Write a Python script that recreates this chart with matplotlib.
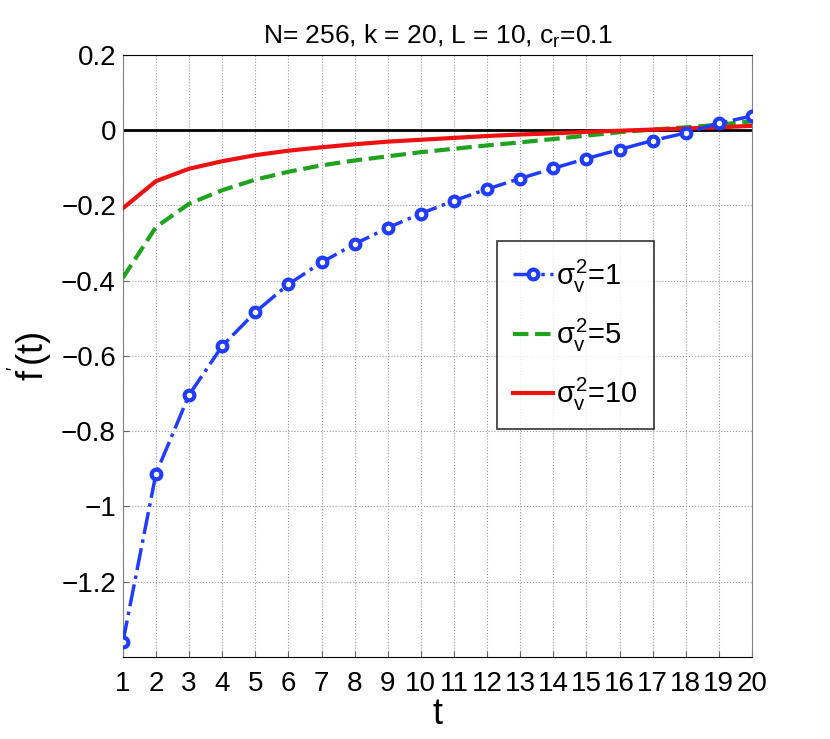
import matplotlib
matplotlib.use("Agg")
import matplotlib.pyplot as plt

# ─── DATA ──────────────────────────────────────────────
t = list(range(1, 21))

# sigma_v^2 = 1
f_s1 = [-1.361, -0.913, -0.704, -0.574, -0.484, -0.410, -0.352, -0.303, -0.260, -0.222,
        -0.188, -0.157, -0.129, -0.102, -0.076, -0.052, -0.028, -0.008, 0.018, 0.037]
# sigma_v^2 = 5
f_s5 = [-0.393, -0.258, -0.196, -0.160, -0.132, -0.111, -0.094, -0.081, -0.070, -0.059,
        -0.050, -0.041, -0.033, -0.024, -0.015, -0.006, 0.001, 0.007, 0.014, 0.023]
# sigma_v^2 = 10
f_s10 = [-0.208, -0.136, -0.103, -0.083, -0.067, -0.055, -0.046, -0.038, -0.031, -0.026,
         -0.021, -0.016, -0.012, -0.009, -0.005, -0.002, 0.001, 0.004, 0.007, 0.011]

labels = [r"$\sigma_v^2$=1", r"$\sigma_v^2$=5", r"$\sigma_v^2$=10"]
yticks = [0.2, 0, -0.2, -0.4, -0.6, -0.8, -1, -1.2]
ytick_labels = ["0.2", "0", "\u22120.2", "\u22120.4", "\u22120.6", "\u22120.8", "\u22121", "\u22121.2"]

BLUE = "#1f3cff"
GREEN = "#1fa31f"
RED = "#ee1111"

plt.rcParams["font.family"] = ["Liberation Sans", "DejaVu Sans"]
plt.rcParams["mathtext.fontset"] = "custom"
plt.rcParams["mathtext.rm"] = "Liberation Sans"
plt.rcParams["mathtext.it"] = "Liberation Sans"

fig = plt.figure(figsize=(8.3, 7.39), dpi=100)
ax = fig.add_axes([0.148, 0.111, 0.758, 0.815])

ax.plot(t, [0] * len(t), color="black", linewidth=2, zorder=2)
ax.plot(t, f_s1, color=BLUE, linestyle="-.", linewidth=2.5, marker="o",
        markersize=7, markerfacecolor="white", markeredgewidth=3,
        label=labels[0], zorder=4)
ax.plot(t, f_s5, color=GREEN, linestyle="--", linewidth=3, label=labels[1], zorder=3)
ax.plot(t, f_s10, color=RED, linestyle="-", linewidth=3, label=labels[2], zorder=3)

ax.set_xlim(1, 20)
ax.set_ylim(-1.4, 0.2)
ax.set_xticks(t)
ax.set_xticklabels([str(v) for v in t], fontsize=20)
ax.set_yticks(yticks)
ax.set_yticklabels(ytick_labels, fontsize=20)
ax.tick_params(direction="in", length=4, color="#666666")
ax.tick_params(axis="x", pad=10)
ax.tick_params(axis="y", pad=5)

ax.grid(True, linestyle=":", color="#999999", linewidth=0.8)
for side in ["left", "right"]:
    ax.spines[side].set_color("#808080")
for side in ["top", "bottom"]:
    ax.spines[side].set_color("black")

ax.set_title(r"N= 256, k = 20, L = 10, c$_r$=0.1", fontsize=19, pad=8)
ax.set_xlabel("t", fontsize=26, labelpad=0)
ax.set_ylabel(r"f$^{'}$(t)", fontsize=26, labelpad=4)

leg = ax.legend(loc="upper left", bbox_to_anchor=(0.594, 0.69), fontsize=21,
                frameon=True, fancybox=False, edgecolor="black",
                handlelength=1.4, handletextpad=0.1, labelspacing=0.75,
                borderpad=0.55, borderaxespad=0)
leg.get_frame().set_linewidth(1.2)

fig.savefig("out.png", dpi=100)
